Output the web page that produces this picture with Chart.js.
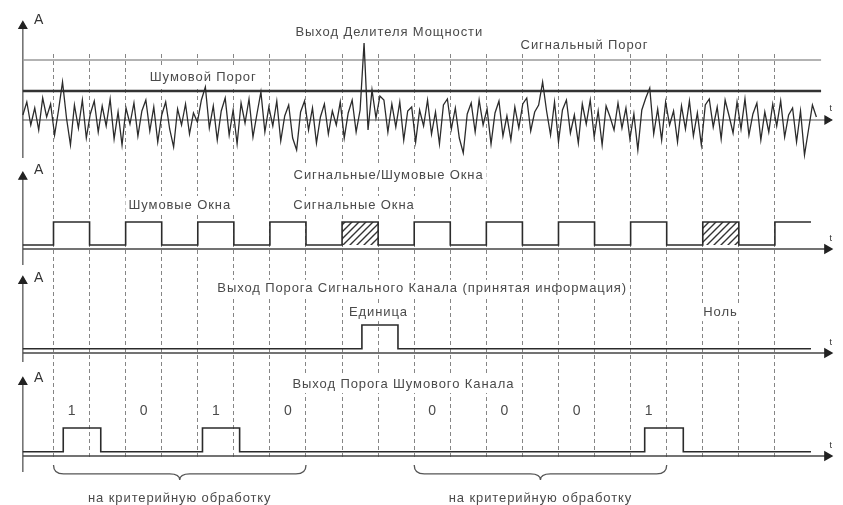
<!DOCTYPE html>
<html>
<head>
<meta charset="utf-8">
<script src="https://cdn.jsdelivr.net/npm/chart.js@4.4.0/dist/chart.umd.min.js"></script>
<style>
  html, body { margin: 0; padding: 0; background: #fff; }
  canvas { display: block; }
</style>
</head>
<body>
<canvas id="chart" width="843" height="505"></canvas>
<script>
// --- данные (время в периодах окна, амплитуда в условных единицах) ---

// шум на выходе делителя мощности, отсчёты через noiseStep
const noiseStart = -0.85;
const noiseStep = 0.11;
const noiseValues = [
  0.5, 1.8, -0.5, 1.2, -1.0, 2.2, 0.3, 1.6, -1.5, 1.0,
  3.8, 0.2, -2.5, 1.5, -0.8, 2.0, -1.8, 0.6, 1.9, -1.2,
  1.4, -0.6, 2.1, -1.9, 0.8, -2.5, 1.2, -0.4, 1.7, -1.6,
  0.9, 2.0, -1.1, 1.3, -2.2, 0.5, 1.8, -0.9, -2.7, 1.1,
  -0.5, 1.6, -1.4, 0.7, -0.2, 2.0, 3.3, -0.8, 1.4, -2.0,
  0.9, 2.2, -1.5, 1.0, -2.4, 1.7, -0.3, 2.1, -1.7, 0.6,
  2.8, -1.2, 1.3, -0.6, 1.9, -2.1, 0.4, 1.5, -1.8, -3.0,
  0.8, 1.9, -1.0, 1.2, -2.3, 0.3, 1.6, -1.4, 0.9, -0.5,
  1.8, -1.8, 0.7, 2.0, -1.2,
  1.0, 7.7, -1.0, 3.0, 0.2,
  2.4, 2.0, -1.2, 1.6, -0.7, 1.8, -2.0, 0.9, 1.3, -2.2,
  1.0, -0.6, 2.0, -1.4, 0.8, -2.4, 1.5, 2.1, -0.9, 1.2,
  -1.8, -3.3, 0.6, 1.7, -1.2, 2.0, -0.5, 1.1, -2.4, 0.7,
  1.9, -1.6, 0.4, -2.0, 1.3, -0.8, 1.6, 2.2, -1.1, 0.8,
  1.5, 3.8, 0.9, -1.5, 1.8, -2.2, 1.0, 2.0, -1.3, 0.5,
  -2.3, 1.6, -0.4, 2.0, -1.7, 0.9, -2.5, 1.4, 0.3, -1.0,
  1.7, -0.8, 1.2, -1.9, 0.6, -3.0, 1.0, 2.2, 3.2, -1.4,
  1.1, -2.0, 1.8, -0.5, 0.9, -2.2, 1.4, -0.9, 1.9, -1.6,
  0.7, -2.5, 1.5, 2.1, -0.7, 1.3, -1.9, 2.0, 0.4, -1.3,
  1.8, -0.9, 2.1, -1.5, 0.6, 1.7, -2.0, 0.8, -1.2, 1.6,
  -0.6, 1.9, -1.7, 0.5, 1.2, -2.2, 0.9, -3.5, -1.0, 1.5, 0.3
];
const signalThreshold = 6.0;
const noiseThreshold = 2.9;

// сигнальные/шумовые окна (уровень действует от границы до следующей)
const windowEdges = [-0.85, 0, 1, 2, 3, 4, 5, 6, 7, 8, 9, 10, 11, 12, 13, 14, 15, 16, 17, 18, 19, 20, 21];
const windowLevels = [0.15, 1, 0.15, 1, 0.15, 1, 0.15, 1, 0.15, 1, 0.15, 1, 0.15, 1, 0.15, 1, 0.15, 1, 0.15, 1, 0.15, 1, 1];
const hatchedWindows = [[8, 9], [18, 19]];

// выход порога сигнального канала
const signalEdges = [-0.85, 8.55, 9.55, 21];
const signalLevels = [0.15, 1, 0.15, 0.15];

// выход порога шумового канала
const noiseOutEdges = [-0.85, 0.27, 1.31, 4.13, 5.16, 16.39, 17.46, 21];
const noiseOutLevels = [0.15, 1, 0.15, 1, 0.15, 1, 0.15, 0.15];
const bitPositions = [0.5, 2.5, 4.5, 6.5, 10.5, 12.5, 14.5, 16.5];
const bitLabels = ['1', '0', '1', '0', '0', '0', '0', '1'];
const braces = [[0, 7], [10, 17]];
const braceText = 'на критерийную обработку';

// --- разметка ---
const areaTop = 12, gridTop = 53, areaBottom = 458;
const pxPerPeriod = 36.6, firstGridPx = 48.1, W = 843, H = 505;
// базовая линия и масштаб каждой полосы (в пикселях)
const panels = {
  y1: { base: 120, unit: 10, axis: [-3.8, 9.4] },
  y2: { base: 249, unit: 27, axis: [-0.59, 2.67] },
  y3: { base: 353, unit: 28, axis: [-0.32, 2.57] },
  y4: { base: 456, unit: 28, axis: [-0.57, 2.64] }
};
const axisX = -0.85, noiseEnd = 21.28, arrowX = 21.45;

const texts = [
  ['Выход Делителя Мощности', 9.31, 8.8, 'y1'],
  ['Сигнальный Порог', 14.72, 7.5, 'y1'],
  ['Шумовой Порог', 4.15, 4.3, 'y1'],
  ['Сигнальные/Шумовые Окна', 9.29, 2.74, 'y2'],
  ['Шумовые Окна', 3.5, 1.63, 'y2'],
  ['Сигнальные Окна', 8.33, 1.63, 'y2'],
  ['Выход Порога Сигнального Канала (принятая информация)', 10.22, 2.29, 'y3'],
  ['Единица', 9.01, 1.46, 'y3'],
  ['Ноль', 18.49, 1.46, 'y3'],
  ['Выход Порога Шумового Канала', 9.7, 2.57, 'y4']
];

const ink = '#2b2b2b';
const textFont = '13px "Liberation Sans", Arial, sans-serif';

function pts(xs, ys) {
  return xs.map((x, i) => ({ x: x, y: ys[i] }));
}

function makeHatch() {
  const c = document.createElement('canvas');
  c.width = 7; c.height = 7;
  const g = c.getContext('2d');
  g.strokeStyle = '#333';
  g.lineWidth = 1.4;
  g.beginPath();
  g.moveTo(0, 7); g.lineTo(7, 0);
  g.moveTo(-1, 1); g.lineTo(1, -1);
  g.moveTo(6, 8); g.lineTo(8, 6);
  g.stroke();
  return g.createPattern(c, 'repeat');
}
const hatch = makeHatch();

let datasets = [];

// шум и пороги
datasets.push({
  data: noiseValues.map((v, i) => ({ x: noiseStart + i * noiseStep, y: v })),
  yAxisID: 'y1', borderColor: ink, borderWidth: 1.3, order: 1
});
datasets.push({
  data: [{ x: axisX, y: signalThreshold }, { x: noiseEnd, y: signalThreshold }],
  yAxisID: 'y1', borderColor: '#9a9a9a', borderWidth: 1.3, order: 2
});
datasets.push({
  data: [{ x: axisX, y: noiseThreshold }, { x: noiseEnd, y: noiseThreshold }],
  yAxisID: 'y1', borderColor: '#333', borderWidth: 2.6, order: 2
});

// оси каждой полосы
for (const id in panels) {
  const p = panels[id];
  datasets.push({
    data: [{ x: axisX, y: 0 }, { x: arrowX, y: 0 }],
    yAxisID: id, borderColor: id == 'y1' ? '#555' : '#444', borderWidth: id == 'y1' ? 1.2 : 1.6,
    pointRadius: [0, 4.5], pointStyle: 'triangle', pointRotation: 90,
    pointBackgroundColor: '#222', pointBorderColor: '#222', order: 3
  });
  datasets.push({
    data: [{ x: axisX, y: p.axis[0] }, { x: axisX, y: p.axis[1] }],
    yAxisID: id, borderColor: '#555', borderWidth: 1.3,
    pointRadius: [0, 4.5], pointStyle: 'triangle', pointRotation: 0,
    pointBackgroundColor: '#222', pointBorderColor: '#222', order: 3
  });
}

// окна
hatchedWindows.forEach(w => {
  datasets.push({
    data: [{ x: w[0], y: 1 }, { x: w[1], y: 1 }],
    yAxisID: 'y2', borderWidth: 0, fill: { value: 0.15 },
    backgroundColor: hatch, order: 4
  });
});
datasets.push({
  data: pts(windowEdges, windowLevels), yAxisID: 'y2',
  stepped: 'before', borderColor: ink, borderWidth: 1.6, order: 1
});
datasets.push({
  data: pts(signalEdges, signalLevels), yAxisID: 'y3',
  stepped: 'before', borderColor: ink, borderWidth: 1.6, order: 1
});
datasets.push({
  data: pts(noiseOutEdges, noiseOutLevels), yAxisID: 'y4',
  stepped: 'before', borderColor: ink, borderWidth: 1.6, order: 1
});

datasets.forEach(d => {
  d.clip = false;
  d.fill = d.fill || false;
  if (d.pointRadius === undefined) d.pointRadius = 0;
});

const scales = {
  x: {
    type: 'linear',
    min: -firstGridPx / pxPerPeriod,
    max: (W - firstGridPx) / pxPerPeriod,
    ticks: { display: false, stepSize: 1, includeBounds: false, autoSkip: false, maxTicksLimit: 100 },
    grid: {
      drawTicks: false, lineWidth: 1,
      color: c => (c.tick && c.tick.value >= 0 && c.tick.value <= 20) ? '#858585' : 'rgba(0,0,0,0)'
    },
    border: { display: false, dash: [4, 3] }
  }
};
for (const id in panels) {
  const p = panels[id];
  scales[id] = {
    type: 'linear', display: false,
    min: -(areaBottom - p.base) / p.unit,
    max: (p.base - areaTop) / p.unit
  };
}

function label(ctx, text, px, py, font, pad) {
  ctx.font = font;
  const w = ctx.measureText(text).width;
  ctx.fillStyle = '#fff';
  ctx.fillRect(px - w / 2 - pad, py - 9, w + pad * 2, 18);
  ctx.fillStyle = '#4a4a4a';
  ctx.fillText(text, px, py);
}

const annotations = {
  id: 'annotations',
  beforeDatasetsDraw(chart) {
    const ctx = chart.ctx, xs = chart.scales.x, sc = chart.scales;
    ctx.save();
    // пунктир начинается ниже верхней подписи
    ctx.fillStyle = '#fff';
    ctx.fillRect(0, 0, W, gridTop);
    ctx.textAlign = 'center';
    ctx.textBaseline = 'middle';
    ctx.letterSpacing = '0.9px';
    texts.forEach(([t, x, y, id]) => {
      label(ctx, t, xs.getPixelForValue(x), sc[id].getPixelForValue(y), textFont, 3);
    });
    braces.forEach(b => {
      label(ctx, braceText, xs.getPixelForValue((b[0] + b[1]) / 2), sc.y4.getPixelForValue(-1.5), textFont, 3);
    });
    ctx.letterSpacing = '0px';
    bitLabels.forEach((b, i) => {
      label(ctx, b, xs.getPixelForValue(bitPositions[i]), sc.y4.getPixelForValue(1.6), '14px "Liberation Sans", Arial, sans-serif', 3);
    });
    // подписи осей
    ctx.fillStyle = '#333';
    const aY = { y1: 10, y2: 2.93, y3: 2.68, y4: 2.79 };
    const tY = { y1: 1.1, y2: 0.4, y3: 0.39, y4: 0.39 };
    for (const id in panels) {
      ctx.font = '14px "Liberation Sans", Arial, sans-serif';
      ctx.fillText('A', xs.getPixelForValue(-0.41), sc[id].getPixelForValue(aY[id]));
      ctx.font = '9px "Liberation Sans", Arial, sans-serif';
      ctx.fillText('t', xs.getPixelForValue(21.55), sc[id].getPixelForValue(tY[id]));
    }
    ctx.restore();
  },
  afterDatasetsDraw(chart) {
    const ctx = chart.ctx, xs = chart.scales.x, y4 = chart.scales.y4;
    ctx.save();
    ctx.strokeStyle = '#555';
    ctx.lineWidth = 1.3;
    const yTop = y4.getPixelForValue(-0.32);
    const yMid = y4.getPixelForValue(-0.64);
    const yTip = y4.getPixelForValue(-0.86);
    const r = 10;
    braces.forEach(b => {
      const x0 = xs.getPixelForValue(b[0]), x1 = xs.getPixelForValue(b[1]);
      const xm = (x0 + x1) / 2;
      ctx.beginPath();
      ctx.moveTo(x0, yTop);
      ctx.quadraticCurveTo(x0, yMid, x0 + r, yMid);
      ctx.lineTo(xm - r, yMid);
      ctx.quadraticCurveTo(xm, yMid, xm, yTip);
      ctx.quadraticCurveTo(xm, yMid, xm + r, yMid);
      ctx.lineTo(x1 - r, yMid);
      ctx.quadraticCurveTo(x1, yMid, x1, yTop);
      ctx.stroke();
    });
    ctx.restore();
  }
};

new Chart(document.getElementById('chart'), {
  type: 'line',
  data: { datasets: datasets },
  options: {
    responsive: false,
    animation: false,
    events: [],
    layout: { padding: { left: 0, right: 0, top: areaTop, bottom: H - areaBottom } },
    elements: { line: { tension: 0 } },
    plugins: { legend: { display: false }, tooltip: { enabled: false } },
    scales: scales
  },
  plugins: [annotations]
});
</script>
</body>
</html>
